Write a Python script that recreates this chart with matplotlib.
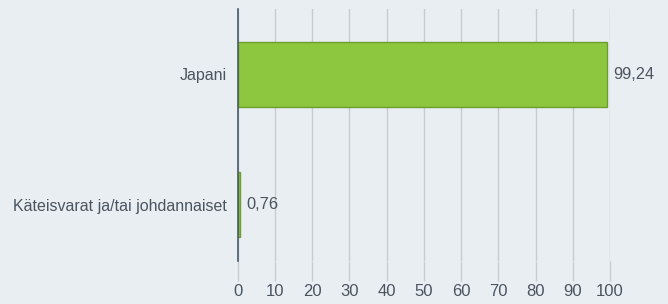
import matplotlib
matplotlib.use("Agg")
import matplotlib.pyplot as plt

categories = ["Japani", "Käteisvarat ja/tai johdannaiset"]
values = [99.24, 0.76]
value_labels = ["99,24", "0,76"]
xticks = [0, 10, 20, 30, 40, 50, 60, 70, 80, 90, 100]

bg = "#e9eef2"
text_color = "#4a5560"

plt.rcParams['font.family'] = ['Liberation Sans', 'DejaVu Sans']

fig = plt.figure(figsize=(6.68, 3.04), dpi=100, facecolor=bg)
ax = fig.add_axes([237.5/668, 1 - 261/304, (610 - 237.5)/668, (261 - 9)/304])
ax.set_facecolor(bg)

y = list(range(len(categories)))
ax.barh(y, values, height=0.5, color="#8dc63f", edgecolor="#6e9e2e", linewidth=1, zorder=3)
for yi, v, lab in zip(y, values, value_labels):
    ax.annotate(lab, xy=(v, yi), xytext=(4.5, 0), textcoords="offset points",
                va="center", ha="left", fontsize=11.8, color=text_color)

ax.set_xlim(0, 100)
ax.set_ylim(1.43, -0.5)
ax.set_yticks(y)
ax.set_yticklabels(categories, fontsize=11.5, color=text_color)
ax.set_xticks(xticks)
ax.set_xticklabels([str(t) for t in xticks], fontsize=12, color=text_color)
ax.tick_params(axis="y", length=0, pad=8)
ax.tick_params(axis="x", length=14.5, width=1, color="#c8cccf", pad=2)
ax.grid(axis="x", color="#c8cccf", linewidth=1, zorder=0)
for s in ["top", "right", "bottom"]:
    ax.spines[s].set_visible(False)
ax.spines["left"].set_color("#4a5a6a")
ax.spines["left"].set_linewidth(1.2)
ax.spines["left"].set_zorder(4)

fig.savefig("out.png", dpi=100, facecolor=bg)
